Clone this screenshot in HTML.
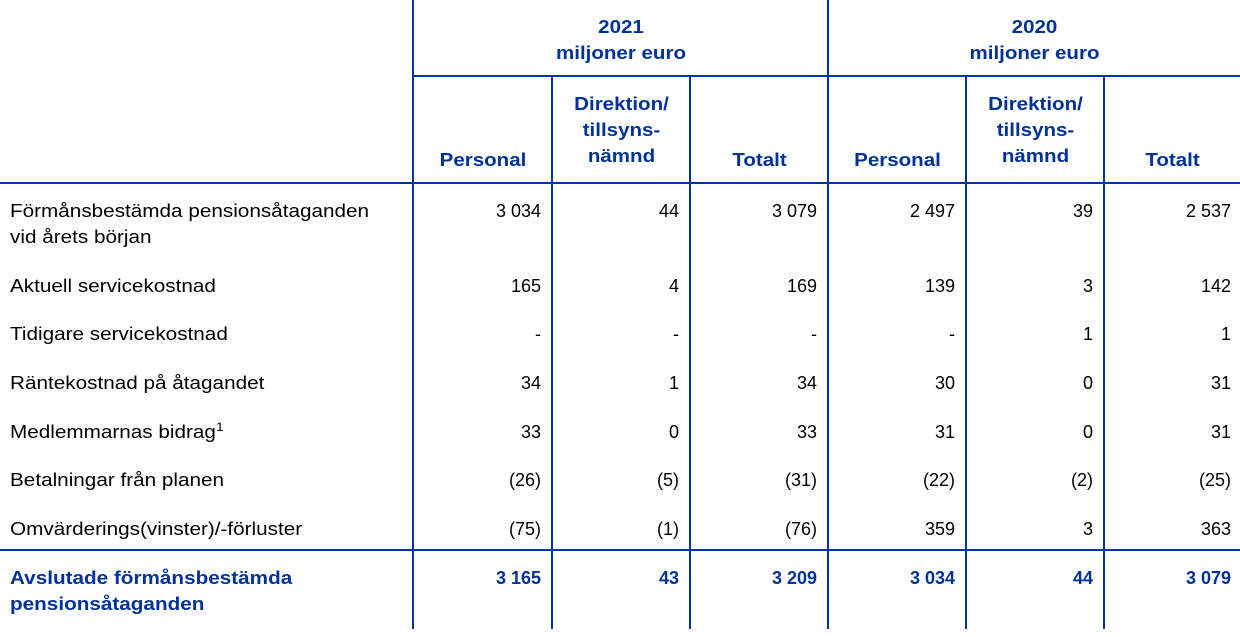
<!DOCTYPE html>
<html><head><meta charset="utf-8"><style>
body{margin:0;width:1240px;height:637px;background:#fff;position:relative;overflow:hidden;font-family:"Liberation Sans",Arial,sans-serif;font-size:18px;color:#000}
.l{position:absolute;background:#003299}
.t{position:absolute;line-height:26px;white-space:nowrap}
.r{text-align:right}
.c{text-align:center}
.b{font-weight:bold;color:#003299}
.sx{transform:scaleX(1.15);transform-origin:0 0}
.cx{transform:scaleX(1.14);transform-origin:50% 0}
sup{font-size:12px;line-height:0;vertical-align:7px}
</style></head><body>
<div class="l" style="left:412px;top:0;width:2px;height:629px"></div>
<div class="l" style="left:827px;top:0;width:2px;height:629px"></div>
<div class="l" style="left:551px;top:76px;width:2px;height:553px"></div>
<div class="l" style="left:689px;top:76px;width:2px;height:553px"></div>
<div class="l" style="left:965px;top:76px;width:2px;height:553px"></div>
<div class="l" style="left:1103px;top:76px;width:2px;height:553px"></div>
<div class="l" style="left:413px;top:75px;width:827px;height:2px"></div>
<div class="l" style="left:0;top:182px;width:1240px;height:2px"></div>
<div class="l" style="left:0;top:549px;width:1240px;height:2px"></div>

<div class="t c b cx" style="left:414px;width:414px;top:14px">2021<br>miljoner euro</div>
<div class="t c b cx" style="left:829px;width:411px;top:14px">2020<br>miljoner euro</div>
<div class="t c b cx" style="left:414px;width:138px;top:147px">Personal</div>
<div class="t c b cx" style="left:553px;width:137px;top:91px">Direktion/<br>tillsyns-<br>nämnd</div>
<div class="t c b cx" style="left:691px;width:137px;top:147px">Totalt</div>
<div class="t c b cx" style="left:829px;width:137px;top:147px">Personal</div>
<div class="t c b cx" style="left:967px;width:137px;top:91px">Direktion/<br>tillsyns-<br>nämnd</div>
<div class="t c b cx" style="left:1105px;width:135px;top:147px">Totalt</div>

<div id="rows"></div>
<script>
var rows=[
["Förmånsbestämda pensionsåtaganden<br>vid årets början",["3 034","44","3 079","2 497","39","2 537"],198],
["Aktuell servicekostnad",["165","4","169","139","3","142"],273],
["Tidigare servicekostnad",["-","-","-","-","1","1"],321],
["Räntekostnad på åtagandet",["34","1","34","30","0","31"],370],
["Medlemmarnas bidrag<sup>1</sup>",["33","0","33","31","0","31"],419],
["Betalningar från planen",["(26)","(5)","(31)","(22)","(2)","(25)"],467],
["Omvärderings(vinster)/-förluster",["(75)","(1)","(76)","359","3","363"],516],
["Avslutade förmånsbestämda<br>pensionsåtaganden",["3 165","43","3 209","3 034","44","3 079"],565,1]];
var ends=[541,679,817,955,1093,1231],h="";
rows.forEach(function(r){var cls=r[3]?" b":"";
h+='<div class="t sx'+cls+'" style="left:10px;top:'+r[2]+'px">'+r[0]+'</div>';
r[1].forEach(function(v,i){h+='<div class="t r'+cls+'" style="left:'+(ends[i]-130)+'px;width:130px;top:'+r[2]+'px">'+v+'</div>';});});
document.getElementById("rows").innerHTML=h;
</script>
</body></html>
